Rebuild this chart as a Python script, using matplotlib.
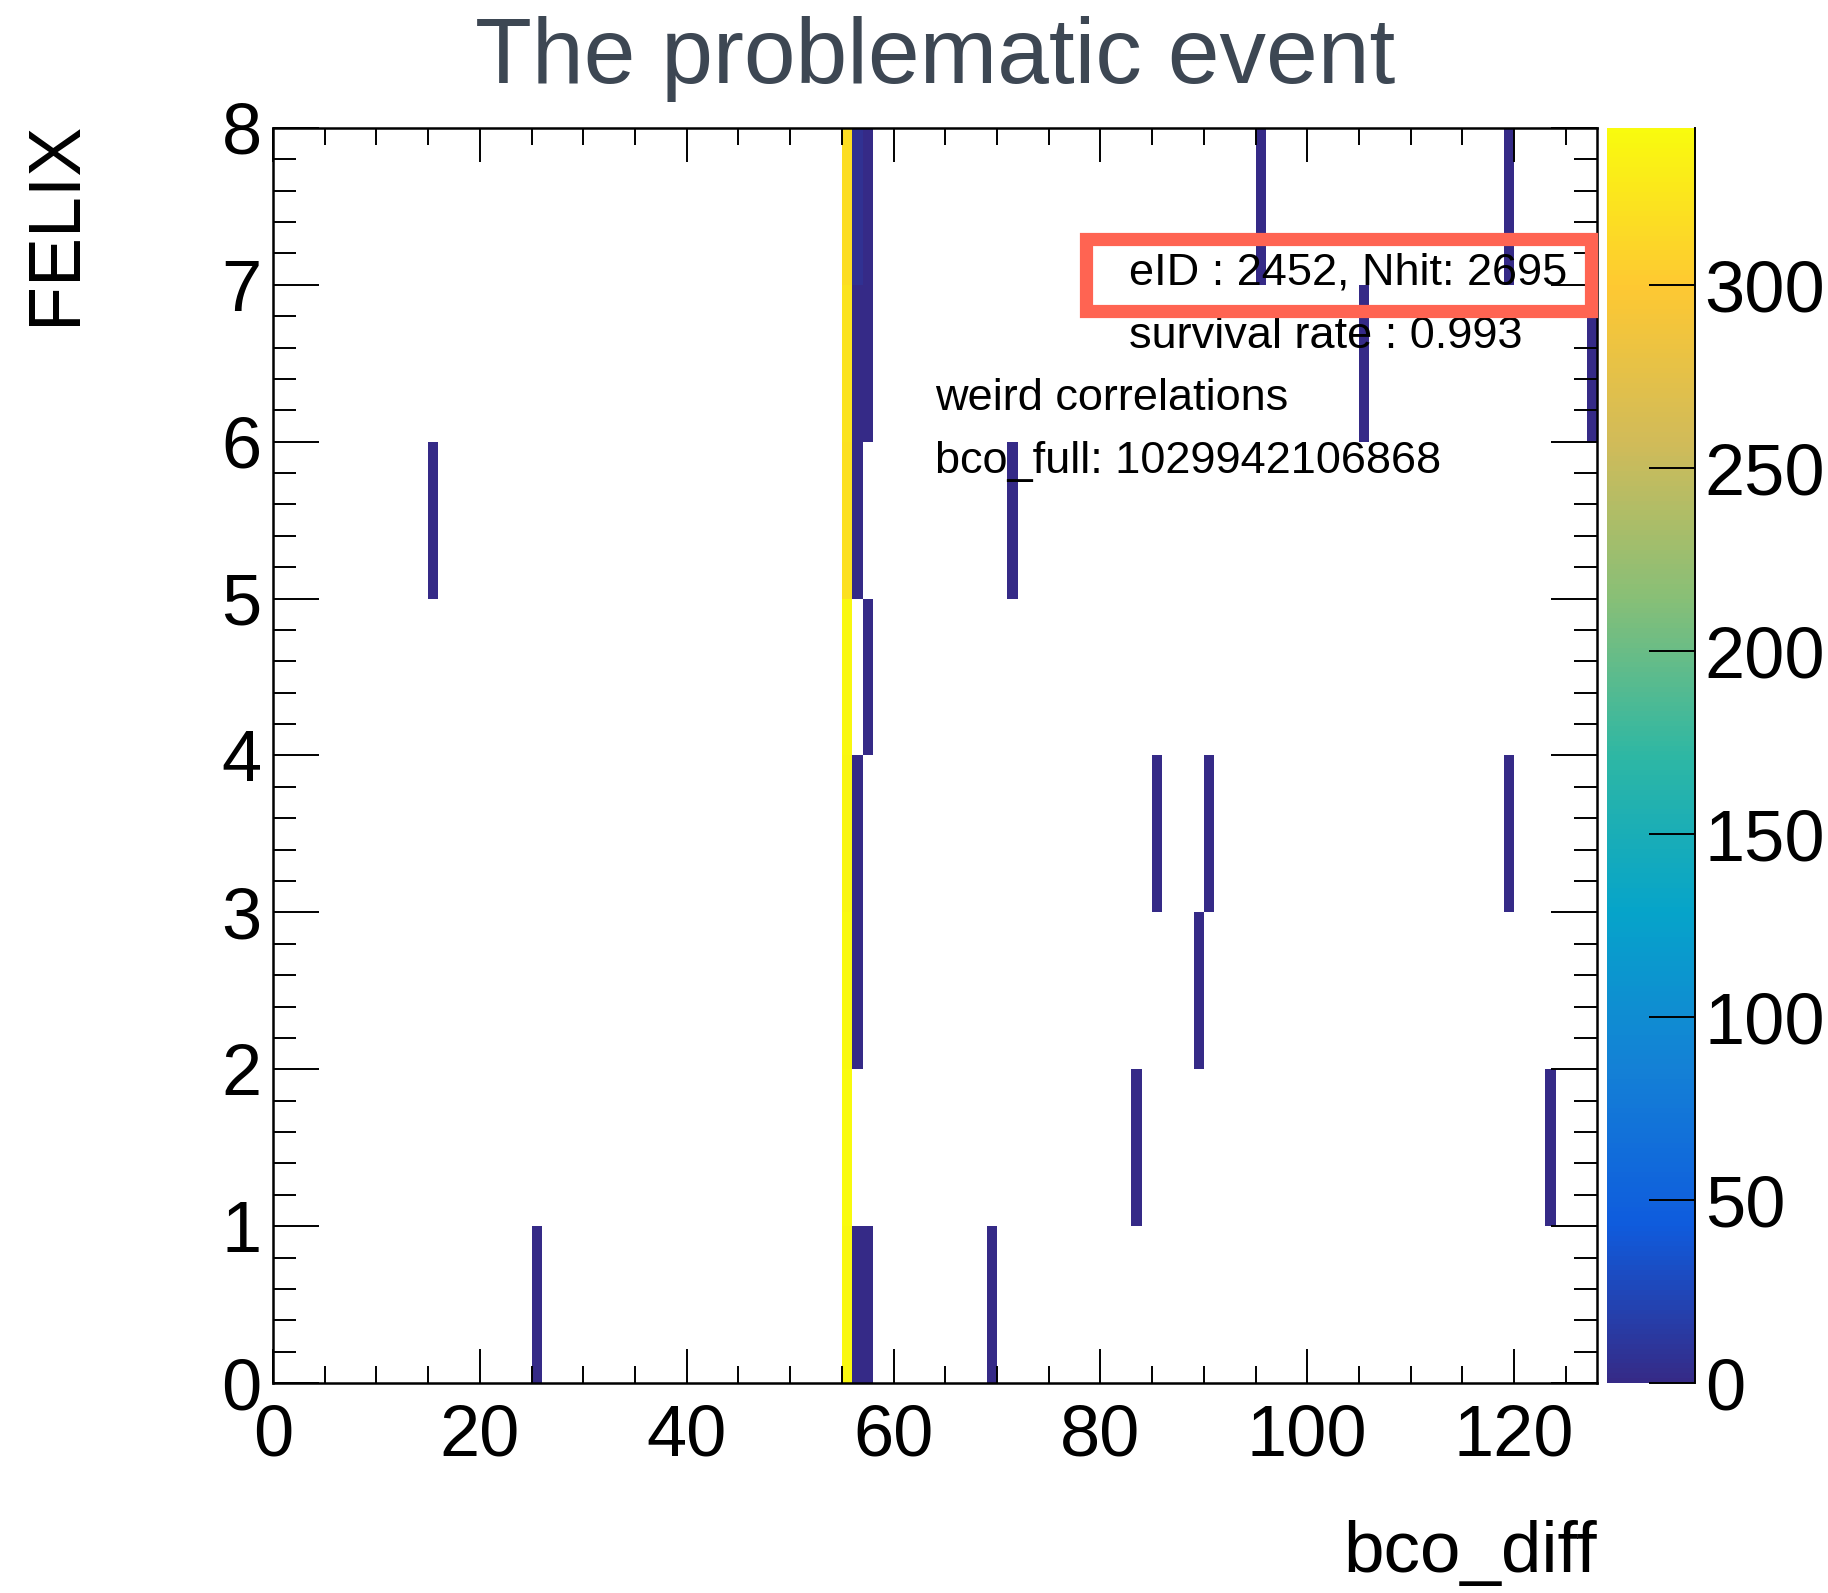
import numpy as np
import matplotlib
matplotlib.use("Agg")
import matplotlib.pyplot as plt
from matplotlib.colors import LinearSegmentedColormap
from matplotlib.patches import Rectangle
from matplotlib.ticker import MultipleLocator

plt.rcParams['font.family'] = ['Liberation Sans', 'DejaVu Sans']

# binning of the 2D histogram
n_bco = 128
n_felix = 8

# filled cells: bco_diff bin, FELIX bin, entries
cell_bco = [55, 55, 55, 55, 55, 55, 55, 55,
            25, 56, 57, 69,
            83, 123,
            56, 89,
            56, 85, 90, 119,
            57,
            15, 56, 71,
            56, 57, 105, 127,
            56, 57, 95, 119]
cell_felix = [0, 1, 2, 3, 4, 5, 6, 7,
              0, 0, 0, 0,
              1, 1,
              2, 2,
              3, 3, 3, 3,
              4,
              5, 5, 5,
              6, 6, 6, 6,
              7, 7, 7, 7]
cell_counts = [340, 343, 341, 338, 339, 320, 322, 317,
               1, 1, 1, 1,
               1, 1,
               1, 1,
               1, 1, 1, 1,
               1,
               1, 1, 1,
               1, 1, 1, 1,
               6, 1, 1, 1]

info_lines = ["eID : 2452, Nhit: 2695", "survival rate : 0.993"]
extra_lines = ["weird correlations", "bco_full: 1029942106868"]

# ROOT kBird palette
stops = [0.0, 0.125, 0.25, 0.375, 0.5, 0.625, 0.75, 0.875, 1.0]
red = [0.2082, 0.0592, 0.0780, 0.0232, 0.1802, 0.5301, 0.8186, 0.9956, 0.9764]
green = [0.1664, 0.3599, 0.5041, 0.6419, 0.7178, 0.7492, 0.7328, 0.7862, 0.9832]
blue = [0.5293, 0.8684, 0.8385, 0.7914, 0.6425, 0.4662, 0.3499, 0.1968, 0.0539]
bird = LinearSegmentedColormap.from_list(
    "bird", list(zip(stops, zip(red, green, blue))))

hist = np.zeros((n_felix, n_bco))
hist[cell_felix, cell_bco] = cell_counts
hist = np.ma.masked_equal(hist, 0)

fig = plt.figure(figsize=(18.28, 15.93), dpi=100)
ax = fig.add_axes([0.1493, 0.1318, 0.7243, 0.7879])
cax = fig.add_axes([0.8791, 0.1318, 0.0481, 0.7879])

mesh = ax.pcolormesh(np.arange(n_bco + 1), np.arange(n_felix + 1), hist,
                     cmap=bird, vmin=0, vmax=max(cell_counts))

ax.set_xlim(0, n_bco)
ax.set_ylim(0, n_felix)
ax.xaxis.set_major_locator(MultipleLocator(20))
ax.xaxis.set_minor_locator(MultipleLocator(5))
ax.yaxis.set_major_locator(MultipleLocator(1))
ax.yaxis.set_minor_locator(MultipleLocator(0.2))
ax.tick_params(axis='both', which='both', direction='in', top=True, right=True,
               width=1.4, labelsize=52)
ax.tick_params(axis='x', which='major', length=24.5, pad=15)
ax.tick_params(axis='x', which='minor', length=12)
ax.tick_params(axis='y', which='major', length=33, pad=8)
ax.tick_params(axis='y', which='minor', length=16.5)
for sp in ax.spines.values():
    sp.set_linewidth(1.8)

# annotations
for i, line in enumerate(info_lines):
    ax.text(82.8, 7.0 - 0.4 * i, line, fontsize=32.5, va='baseline', ha='left')
for i, line in enumerate(extra_lines):
    ax.text(64.0, 6.2 - 0.4 * i, line, fontsize=32.5, va='baseline', ha='left')
ax.add_patch(Rectangle((78.6, 6.83), 48.8, 0.46, fill=False,
                       edgecolor='#FF6452', linewidth=9.5, clip_on=False, zorder=5))

# colour bar
cbar = fig.colorbar(mesh, cax=cax, ticks=np.arange(0, 301, 50))
cbar.outline.set_visible(False)
cax.tick_params(axis='y', direction='in', length=33, width=1.4, labelsize=52, pad=7)
cax.plot([1, 1], [0, 1], transform=cax.transAxes, color='black', lw=1.4, clip_on=False)

fig.text(0.5115, 0.948, "The problematic event", fontsize=67, color='#3D4753',
         ha='center', va='baseline')
fig.text(0.0306, 0.924, "FELIX", fontsize=53, rotation=90, ha='center', va='top')
fig.text(0.8736, 0.013, "bco_diff", fontsize=52.5, ha='right', va='baseline')

fig.savefig("out.png", dpi=100)
